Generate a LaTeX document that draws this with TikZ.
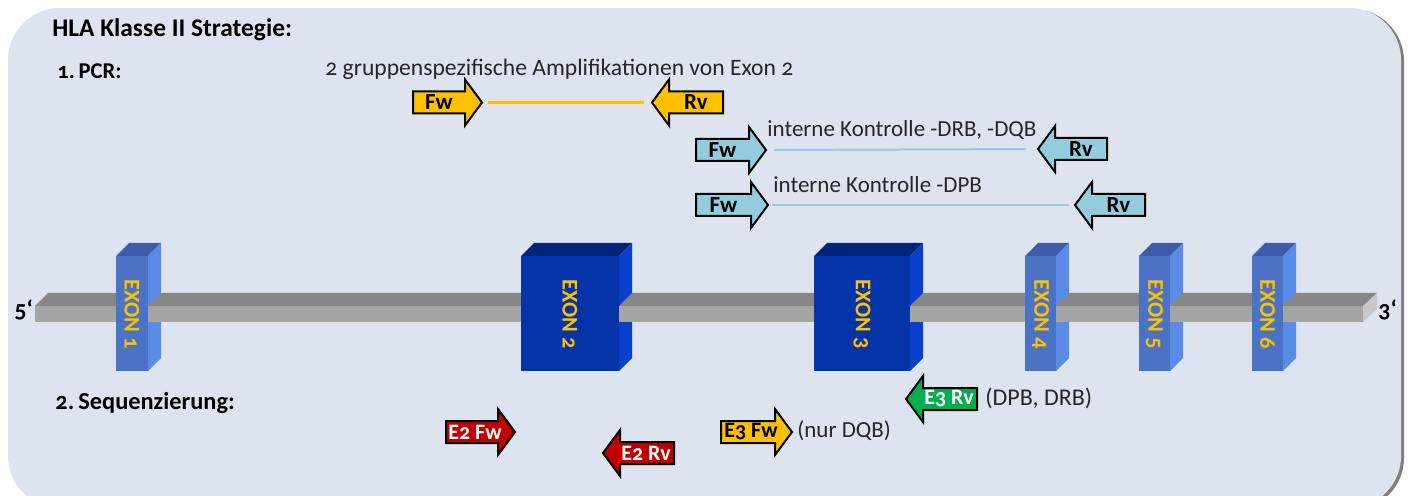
\documentclass[tikz,border=0pt]{standalone}
\usepackage{fontspec}
\setmainfont{Carlito}[Numbers=OldStyle]
\definecolor{panel}{HTML}{DDE4F0}
\definecolor{shadowc}{HTML}{7F7F7F}
\definecolor{gold}{HTML}{FFC000}
\definecolor{cyanp}{HTML}{93CDDD}
\definecolor{redp}{HTML}{C00000}
\definecolor{greenp}{HTML}{00B050}
\definecolor{strtop}{HTML}{878787}
\definecolor{strfront}{HTML}{A5A5A5}
\definecolor{strend}{HTML}{C8C8C8}
\definecolor{lfront}{HTML}{4A72C5}
\definecolor{ltop}{HTML}{3B5DAA}
\definecolor{lside}{HTML}{5B8CE5}
\definecolor{dfront}{HTML}{0534A8}
\definecolor{dtop}{HTML}{02237A}
\definecolor{dside}{HTML}{0A3ECC}
\definecolor{txt}{HTML}{262626}
\tikzset{
  yprim/.style={draw=black, fill=gold, line width=1pt, line join=miter},
  cprim/.style={draw=black, fill=cyanp, line width=1pt, line join=miter},
  rprim/.style={draw=black, fill=redp, line width=1pt, line join=miter},
  gprim/.style={draw=black, fill=greenp, line width=1pt, line join=miter},
  darktext/.style={inner sep=0pt, font=\fontsize{11.5}{12}\selectfont\bfseries, text=black},
  lighttext/.style={inner sep=0pt, xshift=1.5pt, font=\fontsize{11}{12}\selectfont\bfseries, text=white},
  lighttextrv/.style={inner sep=0pt, xshift=-0.5pt, font=\fontsize{11}{12}\selectfont\bfseries, text=white},
  seqdark/.style={inner sep=0pt, xshift=1.5pt, font=\fontsize{11}{12}\selectfont\bfseries, text=black},
  label/.style={inner sep=0pt, anchor=base west, text=txt, font=\fontsize{11.5}{13}\selectfont},
  heading/.style={inner sep=0pt, anchor=base west, text=black, font=\fontsize{11.5}{13}\selectfont\bfseries},
  exonlabel/.style={inner sep=0pt, rotate=-90, text=gold, font=\fontsize{11.2}{13}\selectfont\bfseries},
  endlabel/.style={inner sep=0pt, anchor=base west, text=black, font=\fontsize{12}{13}\selectfont\bfseries},
}
% forward primer: name, shape style, text style, x left, x tip, y centre, text
\newcommand\fwprimer[7]{%
  \draw[#2] (#4,#6-11) -- (#5-17,#6-11) -- (#5-17,#6-23) -- (#5,#6)
    -- (#5-17,#6+23) -- (#5-17,#6+11) -- (#4,#6+11) -- cycle;
  \node[#3] (#1) at ({(#4+#5-17)/2},#6) {#7};
  \coordinate (#1tip) at (#5,#6);}
% reverse primer: name, shape style, text style, x tip, x right, y centre, text
\newcommand\rvprimer[7]{%
  \draw[#2] (#5,#6-11) -- (#4+17,#6-11) -- (#4+17,#6-23) -- (#4,#6)
    -- (#4+17,#6+23) -- (#4+17,#6+11) -- (#5,#6+11) -- cycle;
  \node[#3] (#1) at ({(#4+17+#5)/2},#6) {#7};
  \coordinate (#1tip) at (#4,#6);}
% exon back faces: x left, x right, top colour, side colour
\newcommand\exonback[4]{%
  \fill[#3] (#1,256) -- (#1+13,243) -- (#2+13,243) -- (#2,256) -- cycle;
  \fill[#4] (#2,256) -- (#2+13,243) -- (#2+13,358) -- (#2,371) -- cycle;}
% exon front: name, x left, x right, colour, label
\newcommand\exonfront[5]{%
  \fill[#4] (#2,256) rectangle (#3,371);
  \node[exonlabel] (#1) at ({(#2+#3)/2},314) {#5};}
% strand segment: x a, x b
\newcommand\strandseg[2]{%
  \fill[strtop] (#1,306) -- (#1+13,293) -- (#2+13,293) -- (#2,306) -- cycle;
  \fill[strfront] (#1,306) rectangle (#2,322);}
\begin{document}
\begin{tikzpicture}[x=0.5pt,y=-0.5pt]
\useasboundingbox (0,0) rectangle (1411,496);
% panel
\fill[shadowc] (11,9) [rounded corners=26pt] rectangle (1404,510);
\fill[panel] (8,8) [rounded corners=26pt] rectangle (1401,508);
\fill[white] (0,496) rectangle (1411,520);
% headings
\node[heading, font=\fontsize{12.7}{14}\selectfont\bfseries] (title) at (52,37) {HLA Klasse II Strategie:};
\node[heading, font=\fontsize{11.3}{12}\selectfont\bfseries] (pcr) at (57,79) {1.\,PCR:};
\node[heading, font=\fontsize{12.2}{13}\selectfont\bfseries] (seq) at (55,409) {2.\,Sequenzierung:};
% PCR primers
\node[label, font=\fontsize{11.8}{13}\selectfont] (amp) at (325,76) {2 gruppenspezifische Amplifikationen von Exon 2};
\fwprimer{yfw}{yprim}{darktext}{413}{482}{102.5}{Fw}
\rvprimer{yrv}{yprim}{darktext}{652}{723}{102.5}{Rv}
\draw[gold, line width=1.5pt, shorten <=3, shorten >=4] (yfwtip) -- (yrvtip);
\node[label] (ik1) at (767,137) {interne Kontrolle -DRB, -DQB};
\fwprimer{cfw1}{cprim}{darktext}{696}{766}{150}{Fw}
\rvprimer{crv1}{cprim}{darktext}{1038}{1107}{149}{Rv}
\draw[cyanp, line width=1pt, shorten <=4, shorten >=6] (cfw1tip) -- (crv1tip);
\node[label] (ik2) at (773,193) {interne Kontrolle -DPB};
\fwprimer{cfw2}{cprim}{darktext}{696}{768}{205}{Fw}
\rvprimer{crv2}{cprim}{darktext}{1075}{1145}{205}{Rv}
\draw[cyanp, line width=1pt, shorten <=2, shorten >=3] (cfw2tip) -- (crv2tip);
% gene: back faces of exons
\exonback{116}{148}{ltop}{lside}
\exonback{521}{619}{dtop}{dside}
\exonback{814}{910}{dtop}{dside}
\exonback{1025}{1056}{ltop}{lside}
\exonback{1139}{1170}{ltop}{lside}
\exonback{1252}{1283}{ltop}{lside}
% strand
\strandseg{35}{116}
\strandseg{148}{521}
\strandseg{619}{814}
\strandseg{910}{1025}
\strandseg{1056}{1139}
\strandseg{1170}{1252}
\fill[strtop] (1283,306) -- (1296,293) -- (1377,293) -- (1363,306) -- cycle;
\fill[strfront] (1283,306) rectangle (1363,322);
\fill[strend] (1363,306) -- (1377,293) -- (1377,309) -- (1363,322) -- cycle;
% exon fronts
\exonfront{ex1}{116}{148}{lfront}{EXON 1}
\exonfront{ex2}{521}{619}{dfront}{EXON 2}
\exonfront{ex3}{814}{910}{dfront}{EXON 3}
\exonfront{ex4}{1025}{1056}{lfront}{EXON 4}
\exonfront{ex5}{1139}{1170}{lfront}{EXON 5}
\exonfront{ex6}{1252}{1283}{lfront}{EXON 6}
\node[endlabel] (five) at (14,318) {5‘};
\node[endlabel] (three) at (1378,317) {3‘};
% sequencing primers
\fwprimer{e2fw}{rprim}{lighttext}{446}{515}{432}{E2 Fw}
\rvprimer{e2rv}{rprim}{lighttextrv}{603}{674}{453}{E2 Rv}
\fwprimer{e3fw}{yprim}{seqdark}{721}{792}{432}{E3 Fw}
\node[label] (nurdqb) at (797,437) {(nur DQB)};
\rvprimer{e3rv}{gprim}{lighttextrv}{906}{977}{399}{E3 Rv}
\node[label, font=\fontsize{12}{13}\selectfont] (dpbdrb) at (985,405) {(DPB, DRB)};
\end{tikzpicture}
\end{document}
